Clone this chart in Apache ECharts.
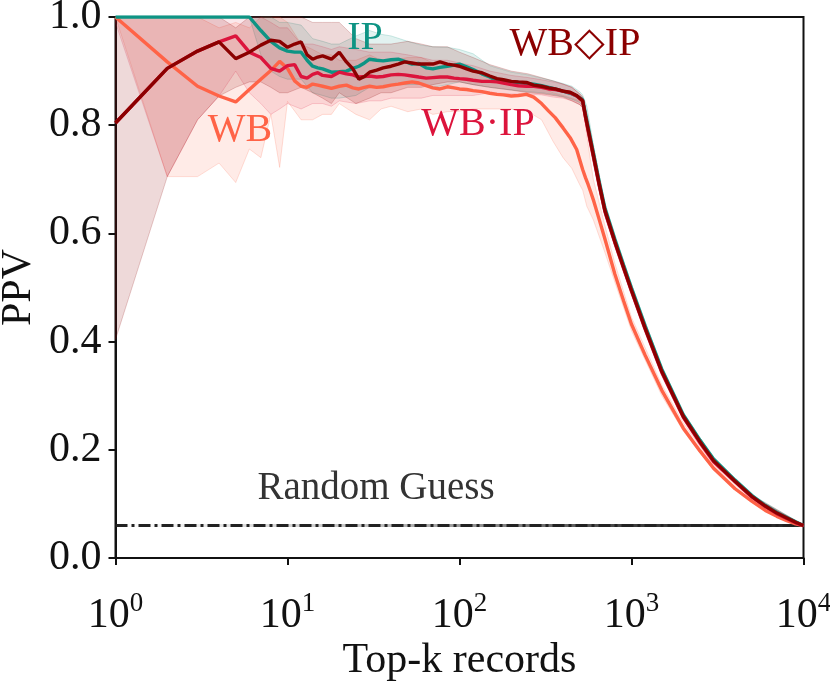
<!DOCTYPE html>
<html>
<head>
<meta charset="utf-8">
<script src="https://cdn.jsdelivr.net/npm/echarts@6/dist/echarts.min.js"></script>
<style>
  html, body { margin: 0; padding: 0; background: #fff; }
  #chart { width: 830px; height: 682px; }
</style>
</head>
<body>
<div id="chart"></div>
<script>
// top-k grid used by the mean curves
var K = [1, 2, 3, 4, 5, 6, 7, 8, 9, 10, 11, 12, 13, 14, 15, 16,
  18, 20, 22, 24, 26, 28, 30,
  33, 36, 40, 44, 48, 53, 58, 64, 70, 77, 85, 93, 100,
  110, 120, 135, 150, 165, 180, 200, 220, 245, 270, 300, 330, 360, 400, 440, 480, 520,
  540, 560, 580, 600, 650, 700, 800, 900, 1000,
  1200, 1500, 2000, 2500, 3000, 4000, 5000, 6000, 7000, 8000, 9000, 10000];

var WB = [1.0, 0.917, 0.872, 0.854, 0.843, 0.866, 0.885, 0.901, 0.918, 0.905, 0.882, 0.872, 0.870, 0.876, 0.874, 0.872,
  0.868, 0.872, 0.874, 0.869, 0.867, 0.870, 0.872,
  0.870, 0.871, 0.874, 0.876, 0.878, 0.880, 0.878, 0.873, 0.869, 0.867, 0.871, 0.869, 0.867,
  0.866, 0.864, 0.862, 0.859, 0.857, 0.856, 0.854, 0.855, 0.857, 0.852, 0.840, 0.826, 0.814, 0.795, 0.777, 0.755, 0.718,
  0.703, 0.690, 0.676, 0.662, 0.625, 0.590, 0.525, 0.475, 0.432,
  0.375, 0.310, 0.240, 0.198, 0.166, 0.128, 0.105, 0.088, 0.077, 0.069, 0.063, 0.060];

var IP = [1, 1, 1, 1, 1, 1, 0.975, 0.955, 0.943, 0.937, 0.935, 0.935, 0.920, 0.909, 0.906, 0.904,
  0.898, 0.899, 0.900, 0.905, 0.909, 0.915, 0.922,
  0.920, 0.919, 0.921, 0.922, 0.918, 0.913, 0.914, 0.906, 0.904, 0.907, 0.909, 0.911, 0.913,
  0.908, 0.903, 0.895, 0.889, 0.882, 0.881, 0.880, 0.879, 0.877, 0.876, 0.873, 0.870, 0.867, 0.863, 0.859, 0.854, 0.847,
  0.821, 0.796, 0.772, 0.749, 0.694, 0.647, 0.589, 0.541, 0.499,
  0.429, 0.349, 0.265, 0.218, 0.183, 0.144, 0.116, 0.097, 0.084, 0.075, 0.067, 0.060];

var WB_IP = [0.804, 0.905, 0.937, 0.954, 0.965, 0.935, 0.925, 0.905, 0.900, 0.910, 0.912, 0.890, 0.887, 0.894, 0.897, 0.892,
  0.890, 0.898, 0.895, 0.893, 0.889, 0.890, 0.891,
  0.889, 0.890, 0.893, 0.894, 0.893, 0.891, 0.889, 0.887, 0.888, 0.889, 0.889, 0.887, 0.886,
  0.885, 0.883, 0.881, 0.881, 0.880, 0.878, 0.875, 0.873, 0.872, 0.872, 0.870, 0.867, 0.866, 0.863, 0.860, 0.854, 0.845,
  0.815, 0.790, 0.766, 0.743, 0.688, 0.641, 0.583, 0.535, 0.493,
  0.423, 0.343, 0.260, 0.213, 0.178, 0.141, 0.113, 0.095, 0.082, 0.073, 0.065, 0.060];

var WB_D_IP = [0.804, 0.905, 0.937, 0.954, 0.923, 0.935, 0.948, 0.957, 0.955, 0.944, 0.950, 0.954, 0.930, 0.922, 0.926, 0.928,
  0.922, 0.935, 0.917, 0.904, 0.885, 0.890, 0.898,
  0.902, 0.906, 0.909, 0.913, 0.917, 0.915, 0.913, 0.913, 0.913, 0.917, 0.913, 0.911, 0.909,
  0.904, 0.900, 0.897, 0.891, 0.886, 0.884, 0.881, 0.880, 0.879, 0.874, 0.872, 0.869, 0.867, 0.863, 0.861, 0.855, 0.845,
  0.817, 0.792, 0.768, 0.745, 0.690, 0.643, 0.585, 0.537, 0.495,
  0.425, 0.345, 0.262, 0.215, 0.180, 0.142, 0.114, 0.096, 0.083, 0.074, 0.066, 0.060];

// coarser grid for the spread bands
var BK = [1, 2, 3, 4, 5, 6, 7, 8, 9, 10, 12, 14, 16, 18, 20, 25, 30, 35, 40,
  50, 60, 70, 85, 100, 120, 150, 200, 250, 300, 350, 400, 450, 500, 520,
  550, 600, 700, 800, 1000, 1500, 2000, 3000, 5000, 10000];

var WB_LO = [1, 0.705, 0.705, 0.73, 0.694, 0.756, 0.74, 0.82, 0.722, 0.844, 0.81, 0.81, 0.82, 0.82, 0.84, 0.82, 0.81, 0.83, 0.835,
  0.825, 0.83, 0.82, 0.825, 0.826, 0.83, 0.83, 0.83, 0.825, 0.81, 0.77, 0.74, 0.72, 0.69, 0.68,
  0.65, 0.625, 0.565, 0.51, 0.42, 0.30, 0.235, 0.162, 0.103, 0.058];
var WB_HI = [1, 1, 1, 0.98, 0.99, 0.98, 1, 1, 1, 0.99, 0.95, 0.94, 0.93, 0.93, 0.92, 0.92, 0.93, 0.92, 0.92,
  0.925, 0.925, 0.915, 0.915, 0.905, 0.90, 0.89, 0.88, 0.88, 0.87, 0.86, 0.855, 0.85, 0.845, 0.84,
  0.78, 0.70, 0.615, 0.545, 0.445, 0.32, 0.25, 0.172, 0.109, 0.062];

var IP_LO = [1, 1, 1, 1, 1, 1, 0.93, 0.9, 0.89, 0.885, 0.885, 0.86, 0.855, 0.85, 0.85, 0.855, 0.87, 0.87, 0.875,
  0.875, 0.875, 0.87, 0.875, 0.88, 0.875, 0.87, 0.865, 0.862, 0.86, 0.857, 0.853, 0.848, 0.842, 0.836,
  0.795, 0.735, 0.637, 0.582, 0.492, 0.343, 0.26, 0.179, 0.113, 0.059];
var IP_HI = [1, 1, 1, 1, 1, 1, 1, 1, 0.99, 0.99, 0.985, 0.96, 0.955, 0.95, 0.95, 0.965, 0.975, 0.968, 0.965,
  0.955, 0.948, 0.945, 0.944, 0.94, 0.932, 0.91, 0.898, 0.893, 0.887, 0.882, 0.877, 0.872, 0.862, 0.856,
  0.835, 0.765, 0.657, 0.598, 0.506, 0.353, 0.268, 0.185, 0.117, 0.061];

var WB_IP_LO = [0.99, 0.705, 0.81, 0.854, 0.9, 0.86, 0.84, 0.82, 0.83, 0.84, 0.83, 0.84, 0.84, 0.835, 0.845, 0.84, 0.845, 0.845, 0.85,
  0.85, 0.85, 0.855, 0.855, 0.855, 0.855, 0.86, 0.858, 0.857, 0.856, 0.852, 0.85, 0.845, 0.838, 0.832,
  0.788, 0.728, 0.631, 0.576, 0.486, 0.338, 0.256, 0.175, 0.11, 0.059];
var WB_IP_HI = [1, 1, 1, 1, 1, 1, 1, 0.99, 0.98, 0.98, 0.95, 0.95, 0.945, 0.94, 0.945, 0.94, 0.935, 0.935, 0.935,
  0.93, 0.925, 0.92, 0.92, 0.915, 0.91, 0.9, 0.892, 0.888, 0.884, 0.88, 0.876, 0.87, 0.858, 0.852,
  0.818, 0.758, 0.651, 0.592, 0.5, 0.348, 0.264, 0.181, 0.114, 0.061];

var WB_D_IP_LO = [0.404, 0.705, 0.81, 0.854, 0.87, 0.88, 0.88, 0.87, 0.86, 0.86, 0.87, 0.86, 0.85, 0.84, 0.86, 0.84, 0.85, 0.86, 0.86,
  0.87, 0.87, 0.875, 0.88, 0.88, 0.875, 0.87, 0.865, 0.86, 0.858, 0.855, 0.852, 0.845, 0.838, 0.832,
  0.79, 0.73, 0.633, 0.578, 0.488, 0.34, 0.258, 0.177, 0.112, 0.059];
var WB_D_IP_HI = [1, 1, 1, 1, 0.98, 1, 1, 1, 1, 1, 1, 0.99, 0.99, 0.99, 0.99, 0.96, 0.95, 0.95, 0.95,
  0.955, 0.95, 0.945, 0.945, 0.935, 0.925, 0.912, 0.90, 0.895, 0.888, 0.882, 0.876, 0.87, 0.858, 0.852,
  0.82, 0.76, 0.653, 0.594, 0.502, 0.35, 0.266, 0.183, 0.116, 0.061];

var RANDOM = 0.06;
var X_MIN = 1, X_MAX = 10000;

var FONT = "'Liberation Serif', 'DejaVu Serif', serif";
var C_WB = '#FF6347', C_IP = '#0e9484', C_WBIP = '#DC143C', C_WBDIP = '#8B0000';

function pairs(xs, ys) {
  return xs.map(function (x, i) { return [x, ys[i]]; });
}

function band(lo, hi, fill, stroke) {
  return {
    type: 'custom',
    silent: true,
    z: 1,
    data: [[1, 0.5]],
    renderItem: function (params, api) {
      var pts = [];
      for (var i = 0; i < BK.length; i++) pts.push(api.coord([BK[i], lo[i]]));
      for (var j = BK.length - 1; j >= 0; j--) pts.push(api.coord([BK[j], hi[j]]));
      return {
        type: 'polygon',
        shape: { points: pts },
        style: { fill: fill, stroke: stroke, lineWidth: 1 }
      };
    }
  };
}

function curve(ys, color, z) {
  return {
    type: 'line',
    data: pairs(K, ys),
    showSymbol: false,
    z: z,
    lineStyle: { color: color, width: 3.4 },
    itemStyle: { color: color }
  };
}

var myChart = echarts.init(document.getElementById('chart'));

var option = {
  animation: false,
  backgroundColor: '#fff',
  grid: {
    left: 115.5, right: 26.5, top: 17, bottom: 124,
    containLabel: false,
    outerBoundsMode: 'none',
    show: true, borderColor: '#111', borderWidth: 2, backgroundColor: 'transparent'
  },
  xAxis: {
    type: 'log',
    logBase: 10,
    min: X_MIN,
    max: X_MAX,
    name: 'Top-k records',
    nameLocation: 'middle',
    nameGap: 82,
    nameMoveOverlap: false,
    nameTextStyle: { fontSize: 42, fontFamily: FONT, color: '#111' },
    axisLine: { lineStyle: { color: '#111', width: 2 } },
    axisTick: { length: 7, lineStyle: { color: '#111', width: 2 } },
    splitLine: { show: false },
    minorTick: { show: false },
    axisLabel: {
      margin: 32,
      formatter: function (v) {
        return '{b|10}{s|' + Math.round(Math.log10(v)) + '}';
      },
      rich: {
        b: { fontSize: 42, fontFamily: FONT, color: '#111', lineHeight: 52 },
        s: { fontSize: 27, fontFamily: FONT, color: '#111', lineHeight: 26, verticalAlign: 'top' }
      }
    }
  },
  yAxis: {
    type: 'value',
    min: 0,
    max: 1,
    interval: 0.2,
    name: 'PPV',
    nameLocation: 'middle',
    nameGap: 76,
    nameRotate: 90,
    nameMoveOverlap: false,
    nameTextStyle: { fontSize: 42, fontFamily: FONT, color: '#111' },
    axisLine: { show: true, lineStyle: { color: '#111', width: 2 } },
    axisTick: { show: true, length: 7, lineStyle: { color: '#111', width: 2 } },
    splitLine: { show: false },
    axisLabel: {
      margin: 14,
      fontSize: 42,
      fontFamily: FONT,
      color: '#111',
      formatter: function (v) { return v.toFixed(1); }
    }
  },
  series: [
    band(WB_LO, WB_HI, 'rgba(255,99,71,0.13)', 'rgba(255,99,71,0.2)'),
    band(IP_LO, IP_HI, 'rgba(14,148,132,0.12)', 'rgba(14,148,132,0.2)'),
    band(WB_IP_LO, WB_IP_HI, 'rgba(220,20,60,0.1)', 'rgba(220,20,60,0.18)'),
    band(WB_D_IP_LO, WB_D_IP_HI, 'rgba(139,0,0,0.15)', 'rgba(139,0,0,0.2)'),
    {
      type: 'line',
      data: [[X_MIN, RANDOM], [X_MAX, RANDOM]],
      showSymbol: false,
      z: 2,
      lineStyle: {
        width: 3,
        color: new echarts.graphic.LinearGradient(0, 0, 1, 0, [
          { offset: 0, color: 'rgba(60,60,60,0)' },
          { offset: 0.4, color: 'rgba(60,60,60,0.35)' },
          { offset: 0.75, color: 'rgba(40,40,40,0.9)' },
          { offset: 1, color: 'rgba(40,40,40,1)' }
        ])
      }
    },
    {
      type: 'line',
      data: [[X_MIN, RANDOM], [X_MAX, RANDOM]],
      showSymbol: false,
      z: 2,
      lineStyle: { width: 3, color: '#222', type: [12, 4, 3, 4] }
    },
    curve(WB, C_WB, 3),
    curve(IP, C_IP, 4),
    curve(WB_IP, C_WBIP, 5),
    curve(WB_D_IP, C_WBDIP, 6)
  ],
  graphic: [
    { type: 'text', x: 365, y: 38, z: 10, style: { text: 'IP', fill: C_IP, font: '40px ' + FONT, align: 'center', verticalAlign: 'middle' } },
    { type: 'text', x: 575, y: 44, z: 10, style: { text: 'WB\u25C7IP', fill: C_WBDIP, font: '40px ' + FONT, align: 'center', verticalAlign: 'middle' } },
    { type: 'text', x: 240, y: 130, z: 10, style: { text: 'WB', fill: C_WB, font: '40px ' + FONT, align: 'center', verticalAlign: 'middle' } },
    { type: 'text', x: 478, y: 124, z: 10, style: { text: 'WB\u00B7IP', fill: C_WBIP, font: '40px ' + FONT, align: 'center', verticalAlign: 'middle' } },
    { type: 'text', x: 376, y: 489, z: 10, style: { text: 'Random Guess', fill: '#333', font: '39px ' + FONT, align: 'center', verticalAlign: 'middle' } }
  ]
};

myChart.setOption(option);
</script>
</body>
</html>
